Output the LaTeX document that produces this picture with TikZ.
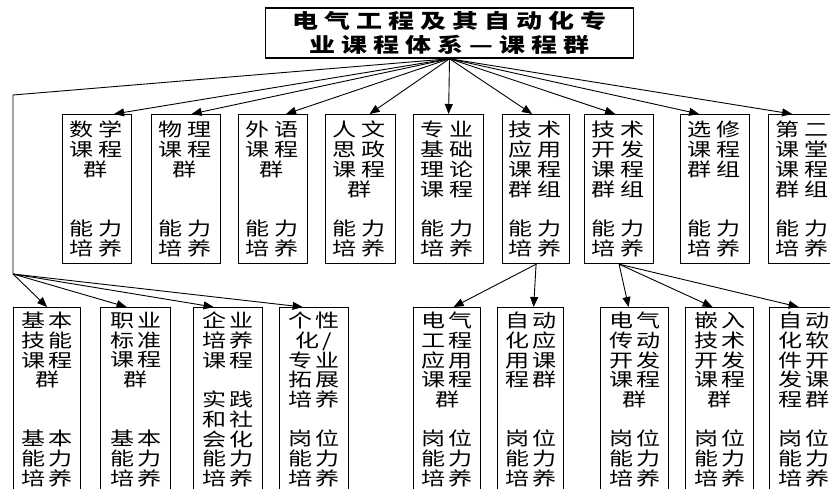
\documentclass[tikz,border=0pt]{standalone}
\usepackage{fontspec}
\newfontfamily\cjk{Noto Sans CJK SC}[FakeStretch=1.3]
\usetikzlibrary{arrows.meta,calc}
\newlength\cg
\def\cjkEnd{CJKEND}
\newcommand\cjkgap[1]{\cjkgapA#1\cjkEnd}
\def\cjkgapA#1#2{#1\ifx#2\cjkEnd\else\hskip\cg\relax\expandafter\cjkgapA\expandafter#2\fi}
\begin{document}
\begin{tikzpicture}[x=1pt,y=-1pt,
 bx/.style={draw,line width=1.2pt,anchor=north west,inner sep=0pt,minimum height=149pt},
 bbx/.style={draw,line width=1.2pt,anchor=north west,inner sep=0pt,minimum height=190pt},
 ttx/.style={anchor=north,align=center,inner sep=0pt,font=\cjk\fontsize{18.5}{19.8}\selectfont\setlength\cg{5pt}},
 btx/.style={anchor=north,align=center,inner sep=0pt,font=\cjk\fontsize{18.5}{19.7}\selectfont\setlength\cg{3pt}},
 arr/.style={line width=0.9pt,-{Triangle[length=10pt,width=8pt]}},
 ln/.style={line width=0.9pt}]
\clip (0,0) rectangle (830,489);
\node[draw,line width=1.5pt,minimum width=368pt,minimum height=50pt,inner sep=0pt,align=center,
  font=\cjk\bfseries\fontsize{20}{24.5}\selectfont\setlength\cg{6pt}] (title) at (449.5,33)
  {\cjkgap{电气工程及其自动化专}\\\cjkgap{业课程体系—课程群}};
% top row
\node[bx,minimum width=69pt] (t1) at (62,114) {};
\node[bx,minimum width=69pt] (t2) at (151,114) {};
\node[bx,minimum width=69pt] (t3) at (238,114) {};
\node[bx,minimum width=70pt] (t4) at (325,114) {};
\node[bx,minimum width=70pt] (t5) at (413,114) {};
\node[bx,minimum width=67pt] (t6) at (502,114) {};
\node[bx,minimum width=69pt] (t7) at (584,114) {};
\node[bx,minimum width=69pt] (t8) at (680,114) {};
\node[bx,minimum width=69pt] (t9) at (768,114) {};
\node[ttx] (t1t) at ([xshift=-1.5pt,yshift=-7pt]t1.north) {\cjkgap{数学}\\\cjkgap{课程}\\群\\\mbox{}\\\mbox{}\\\cjkgap{能力}\\\cjkgap{培养}};
\node[ttx] (t2t) at ([xshift=-1.5pt,yshift=-7pt]t2.north) {\cjkgap{物理}\\\cjkgap{课程}\\群\\\mbox{}\\\mbox{}\\\cjkgap{能力}\\\cjkgap{培养}};
\node[ttx] (t3t) at ([xshift=-1.5pt,yshift=-7pt]t3.north) {\cjkgap{外语}\\\cjkgap{课程}\\群\\\mbox{}\\\mbox{}\\\cjkgap{能力}\\\cjkgap{培养}};
\node[ttx] (t4t) at ([xshift=-1.5pt,yshift=-7pt]t4.north) {\cjkgap{人文}\\\cjkgap{思政}\\\cjkgap{课程}\\群\\\mbox{}\\\cjkgap{能力}\\\cjkgap{培养}};
\node[ttx] (t5t) at ([xshift=-1.5pt,yshift=-7pt]t5.north) {\cjkgap{专业}\\\cjkgap{基础}\\\cjkgap{理论}\\\cjkgap{课程}\\\mbox{}\\\cjkgap{能力}\\\cjkgap{培养}};
\node[ttx] (t6t) at ([xshift=-1.5pt,yshift=-7pt]t6.north) {\cjkgap{技术}\\\cjkgap{应用}\\\cjkgap{课程}\\\cjkgap{群组}\\\mbox{}\\\cjkgap{能力}\\\cjkgap{培养}};
\node[ttx] (t7t) at ([xshift=-1.5pt,yshift=-7pt]t7.north) {\cjkgap{技术}\\\cjkgap{开发}\\\cjkgap{课程}\\\cjkgap{群组}\\\mbox{}\\\cjkgap{能力}\\\cjkgap{培养}};
\node[ttx] (t8t) at ([xshift=-1.5pt,yshift=-7pt]t8.north) {\cjkgap{选修}\\\cjkgap{课程}\\\cjkgap{群组}\\\mbox{}\\\mbox{}\\\cjkgap{能力}\\\cjkgap{培养}};
\node[ttx] (t9t) at ([xshift=-1.5pt,yshift=-7pt]t9.north) {\cjkgap{第二}\\\cjkgap{课堂}\\\cjkgap{课程}\\\cjkgap{群组}\\\mbox{}\\\cjkgap{能力}\\\cjkgap{培养}};
% bottom row
\node[bbx,minimum width=67pt] (b1) at (13,307) {};
\node[bbx,minimum width=70pt] (b2) at (100,307) {};
\node[bbx,minimum width=69pt] (b3) at (193,307) {};
\node[bbx,minimum width=69pt] (b4) at (279,307) {};
\node[bbx,minimum width=67pt] (b5) at (413,307) {};
\node[bbx,minimum width=66pt] (b6) at (497,307) {};
\node[bbx,minimum width=68pt] (b7) at (600,307) {};
\node[bbx,minimum width=68pt] (b8) at (685,307) {};
\node[bbx,minimum width=68pt] (b9) at (769,307) {};
\node[btx] (b1t) at ([yshift=-5pt]b1.north) {\cjkgap{基本}\\\cjkgap{技能}\\\cjkgap{课程}\\群\\\mbox{}\\\mbox{}\\\cjkgap{基本}\\\cjkgap{能力}\\\cjkgap{培养}};
\node[btx] (b2t) at ([yshift=-5pt]b2.north) {\cjkgap{职业}\\\cjkgap{标准}\\\cjkgap{课程}\\群\\\mbox{}\\\mbox{}\\\cjkgap{基本}\\\cjkgap{能力}\\\cjkgap{培养}};
\node[btx] (b3t) at ([yshift=-5pt]b3.north) {\cjkgap{企业}\\\cjkgap{培养}\\\cjkgap{课程}\\\mbox{}\\\cjkgap{实践}\\\cjkgap{和社}\\\cjkgap{会化}\\\cjkgap{能力}\\\cjkgap{培养}};
\node[btx] (b4t) at ([yshift=-5pt]b4.north) {\cjkgap{个性}\\\cjkgap{化/}\\\cjkgap{专业}\\\cjkgap{拓展}\\\cjkgap{培养}\\\mbox{}\\\cjkgap{岗位}\\\cjkgap{能力}\\\cjkgap{培养}};
\node[btx] (b5t) at ([yshift=-5pt]b5.north) {\cjkgap{电气}\\\cjkgap{工程}\\\cjkgap{应用}\\\cjkgap{课程}\\群\\\mbox{}\\\cjkgap{岗位}\\\cjkgap{能力}\\\cjkgap{培养}};
\node[btx] (b6t) at ([yshift=-5pt]b6.north) {\cjkgap{自动}\\\cjkgap{化应}\\\cjkgap{用课}\\\cjkgap{程群}\\\mbox{}\\\mbox{}\\\cjkgap{岗位}\\\cjkgap{能力}\\\cjkgap{培养}};
\node[btx] (b7t) at ([yshift=-5pt]b7.north) {\cjkgap{电气}\\\cjkgap{传动}\\\cjkgap{开发}\\\cjkgap{课程}\\群\\\mbox{}\\\cjkgap{岗位}\\\cjkgap{能力}\\\cjkgap{培养}};
\node[btx] (b8t) at ([yshift=-5pt]b8.north) {\cjkgap{嵌入}\\\cjkgap{技术}\\\cjkgap{开发}\\\cjkgap{课程}\\群\\\mbox{}\\\cjkgap{岗位}\\\cjkgap{能力}\\\cjkgap{培养}};
\node[btx] (b9t) at ([yshift=-5pt]b9.north) {\cjkgap{自动}\\\cjkgap{化软}\\\cjkgap{件开}\\\cjkgap{发课}\\\cjkgap{程群}\\\mbox{}\\\cjkgap{岗位}\\\cjkgap{能力}\\\cjkgap{培养}};
% connectors from title
\draw[arr] (title.south) -- ([xshift=17pt]t1.north);
\draw[arr] (title.south) -- ([xshift=5.5pt]t2.north);
\draw[arr] (title.south) -- ([xshift=13pt]t3.north);
\draw[arr] (title.south) -- ([xshift=9pt]t4.north);
\draw[arr] (title.south) -- (t5.north);
\draw[arr] (title.south) -- ([xshift=-4pt]t6.north);
\draw[arr] (title.south) -- ([xshift=-4pt]t7.north);
\draw[arr] (title.south) -- ([xshift=-16pt]t8.north);
\draw[arr] (title.south) -- ([xshift=-11pt]t9.north);
\coordinate (c1) at (13,95);
\coordinate (c2) at (13,274);
\draw[ln] (title.south) -- (c1) -- (c2);
\draw[arr] (c2) -- (b1.north);
\draw[arr] (c2) -- ([xshift=-9pt]b2.north);
\draw[arr] (c2) -- ([xshift=-14.5pt]b3.north);
\draw[arr] (c2) -- ([xshift=-11.5pt]b4.north);
\draw[arr] (t6.south) -- ([xshift=6.5pt]b5.north);
\draw[arr] (t6.south) -- ([xshift=3pt]b6.north);
\draw[arr] (t7.south) -- ([xshift=-6pt]b7.north);
\draw[arr] (t7.south) -- ([xshift=-7pt]b8.north);
\draw[arr] (t7.south) -- ([xshift=-5pt]b9.north);
\end{tikzpicture}
\end{document}
